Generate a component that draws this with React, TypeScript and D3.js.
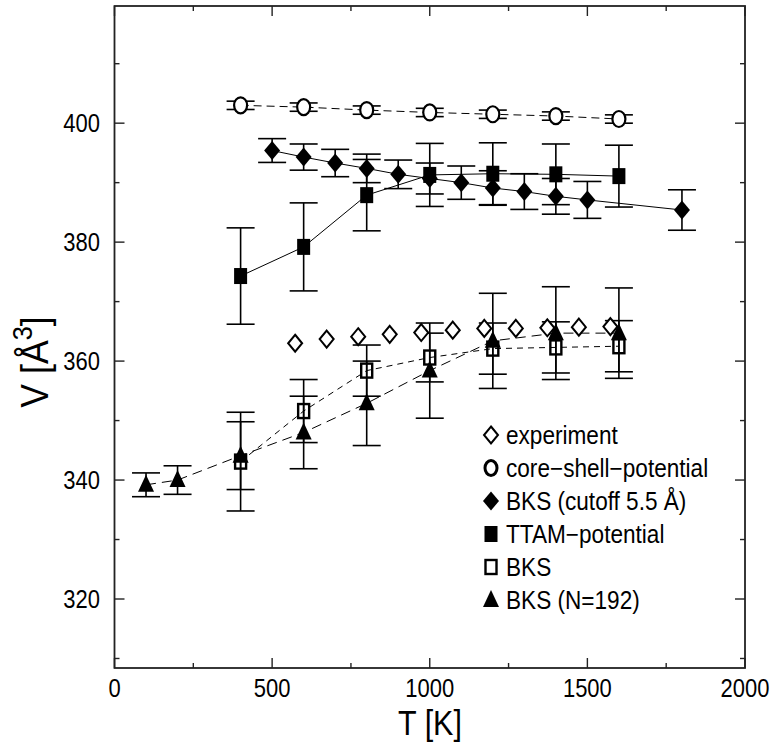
import React from "react";
import * as d3 from "d3";

const coreShellT = [400, 600, 800, 1000, 1200, 1400, 1600];
const coreShellV = [403.0, 402.7, 402.2, 401.8, 401.5, 401.2, 400.7];
const coreShellErr = [0.7, 0.7, 0.7, 0.7, 0.7, 0.7, 0.7];

const bksCutT = [500, 600, 700, 800, 900, 1000, 1100, 1200, 1300, 1400, 1500, 1800];
const bksCutV = [395.4, 394.3, 393.3, 392.4, 391.4, 390.7, 390.0, 389.1, 388.5, 387.7, 387.1, 385.4];
const bksCutErr = [2.0, 2.2, 2.3, 2.4, 2.4, 2.6, 2.8, 2.9, 3.0, 3.0, 3.1, 3.4];

const ttamT = [400, 600, 800, 1000, 1200, 1400, 1600];
const ttamV = [374.3, 379.2, 387.9, 391.3, 391.5, 391.4, 391.1];
const ttamErr = [8.1, 7.4, 6.0, 5.3, 5.2, 5.1, 5.2];

const expT = [573, 673, 773, 873, 973, 1073, 1173, 1273, 1373, 1473, 1573];
const expV = [363.0, 363.7, 364.1, 364.5, 364.8, 365.2, 365.5, 365.5, 365.6, 365.7, 365.8];

const bksT = [400, 600, 800, 1000, 1200, 1400, 1600];
const bksV = [343.1, 351.6, 358.4, 360.6, 362.1, 362.3, 362.5];
const bksErr = [8.3, 5.3, 4.3, 4.1, 4.3, 4.3, 4.3];

const bks192T = [100, 200, 400, 600, 800, 1000, 1200, 1400, 1600];
const bks192V = [339.2, 340.0, 344.1, 348.0, 352.9, 358.4, 363.4, 364.7, 364.7];
const bks192Err = [2.0, 2.4, 5.7, 6.1, 7.1, 8.0, 8.0, 7.8, 7.6];

const xMajor = [0, 500, 1000, 1500, 2000];
const xMinor = [250, 750, 1250, 1750];
const yMajor = [320, 340, 360, 380, 400];
const yMinor = [310, 330, 350, 370, 390, 410];

const legendLabels = [
  "experiment",
  "core\u2212shell\u2212potential",
  "BKS (cutoff 5.5 \u00c5)",
  "TTAM\u2212potential",
  "BKS",
  "BKS (N=192)",
];

const FONT = "'Liberation Sans', Arial, Helvetica, sans-serif";

const x = d3.scaleLinear().domain([0, 2000]).range([114.5, 745]);
const y = d3.scaleLinear().domain([308.4, 419.7]).range([668, 6]);

type MarkerKind = "openDiamond" | "circle" | "diamond" | "square" | "openSquare" | "triangle";

function Marker({ kind, cx, cy, legend }: { kind: MarkerKind; cx: number; cy: number; legend?: boolean }) {
  switch (kind) {
    case "openDiamond":
      return (
        <path
          d={`M${cx},${cy - 8.5}L${cx + 7},${cy}L${cx},${cy + 8.5}L${cx - 7},${cy}Z`}
          fill="white"
          stroke="black"
          strokeWidth={2}
        />
      );
    case "diamond":
      return (
        <path
          d={`M${cx},${cy - 9.5}L${cx + 8},${cy}L${cx},${cy + 9.5}L${cx - 8},${cy}Z`}
          fill="black"
        />
      );
    case "circle":
      return (
        <ellipse
          cx={cx}
          cy={cy}
          rx={legend ? 6 : 6.5}
          ry={legend ? 7.5 : 8}
          fill="white"
          stroke="black"
          strokeWidth={legend ? 3 : 2.2}
        />
      );
    case "square":
      return <rect x={cx - 6.5} y={cy - 8} width={13} height={16} fill="black" />;
    case "openSquare":
      return (
        <rect x={cx - 5.5} y={cy - 7} width={11} height={14} fill="none" stroke="black" strokeWidth={2.4} />
      );
    case "triangle":
      return <path d={`M${cx},${cy - 10}L${cx + 8},${cy + 7}L${cx - 8},${cy + 7}Z`} fill="black" />;
  }
}

function ErrorBars({ T, V, E }: { T: number[]; V: number[]; E: number[] }) {
  const cw = 14;
  return (
    <g stroke="black" strokeWidth={1.6}>
      {T.map((t, i) => {
        const px = x(t);
        const y1 = y(V[i] + E[i]);
        const y2 = y(V[i] - E[i]);
        return (
          <g key={i}>
            <line x1={px} x2={px} y1={y1} y2={y2} />
            <line x1={px - cw} x2={px + cw} y1={y1} y2={y1} />
            <line x1={px - cw} x2={px + cw} y1={y2} y2={y2} />
          </g>
        );
      })}
    </g>
  );
}

function Series({ T, V, kind }: { T: number[]; V: number[]; kind: MarkerKind }) {
  return (
    <g>
      {T.map((t, i) => (
        <Marker key={i} kind={kind} cx={x(t)} cy={y(V[i])} />
      ))}
    </g>
  );
}

function STxt({
  tx,
  ty,
  sy,
  size,
  anchor,
  children,
}: {
  tx: number;
  ty: number;
  sy: number;
  size: number;
  anchor?: string;
  children: React.ReactNode;
}) {
  return (
    <text transform={`translate(${tx},${ty}) scale(1,${sy})`} fontSize={size} textAnchor={anchor || "start"}>
      {children}
    </text>
  );
}

export default function App() {
  const line = (T: number[], V: number[]) =>
    d3.line<number>().x((t) => x(t)).y((_, i) => y(V[i]))(T) || "";

  const [x0, x1] = x.range();
  const [yb, yt] = y.range();

  const legendKinds: MarkerKind[] = ["openDiamond", "circle", "diamond", "square", "openSquare", "triangle"];

  return (
    <svg
      width={772}
      height={742}
      style={{ position: "absolute", left: 0, top: 0, background: "white" }}
      fontFamily={FONT}
    >
      <rect x={0} y={0} width={772} height={742} fill="white" />

      {/* connecting lines */}
      <path d={line(coreShellT, coreShellV)} fill="none" stroke="black" strokeWidth={1} strokeDasharray="8,5" />
      <path d={line(bksCutT, bksCutV)} fill="none" stroke="black" strokeWidth={1} />
      <path d={line(ttamT, ttamV)} fill="none" stroke="black" strokeWidth={1} />
      <path d={line(bksT, bksV)} fill="none" stroke="black" strokeWidth={1} strokeDasharray="6,5" />
      <path d={line(bks192T, bks192V)} fill="none" stroke="black" strokeWidth={1} strokeDasharray="10,6" />

      {/* error bars */}
      <ErrorBars T={coreShellT} V={coreShellV} E={coreShellErr} />
      <ErrorBars T={bksCutT} V={bksCutV} E={bksCutErr} />
      <ErrorBars T={ttamT} V={ttamV} E={ttamErr} />
      <ErrorBars T={bksT} V={bksV} E={bksErr} />
      <ErrorBars T={bks192T} V={bks192V} E={bks192Err} />

      {/* markers */}
      <Series T={expT} V={expV} kind="openDiamond" />
      <Series T={coreShellT} V={coreShellV} kind="circle" />
      <Series T={bksCutT} V={bksCutV} kind="diamond" />
      <Series T={ttamT} V={ttamV} kind="square" />
      <Series T={bks192T} V={bks192V} kind="triangle" />
      <Series T={bksT} V={bksV} kind="openSquare" />

      {/* frame */}
      <rect x={x0} y={yt} width={x1 - x0} height={yb - yt} fill="none" stroke="#222" strokeWidth={1.8} />

      {/* ticks */}
      <g stroke="#222" strokeWidth={1.4}>
        {xMajor.map((t) => (
          <g key={"xM" + t}>
            <line x1={x(t)} x2={x(t)} y1={yb} y2={yb - 10} />
            <line x1={x(t)} x2={x(t)} y1={yt} y2={yt + 10} />
          </g>
        ))}
        {xMinor.map((t) => (
          <g key={"xm" + t}>
            <line x1={x(t)} x2={x(t)} y1={yb} y2={yb - 5} />
            <line x1={x(t)} x2={x(t)} y1={yt} y2={yt + 5} />
          </g>
        ))}
        {yMajor.map((v) => (
          <g key={"yM" + v}>
            <line x1={x0} x2={x0 + 10} y1={y(v)} y2={y(v)} />
            <line x1={x1} x2={x1 - 10} y1={y(v)} y2={y(v)} />
          </g>
        ))}
        {yMinor.map((v) => (
          <g key={"ym" + v}>
            <line x1={x0} x2={x0 + 5} y1={y(v)} y2={y(v)} />
            <line x1={x1} x2={x1 - 5} y1={y(v)} y2={y(v)} />
          </g>
        ))}
      </g>

      {/* tick labels */}
      <g fill="black">
        {xMajor.map((t) => (
          <STxt key={"xl" + t} tx={x(t)} ty={697} sy={1.2} size={22} anchor="middle">
            {t}
          </STxt>
        ))}
        {yMajor.map((v) => (
          <STxt key={"yl" + v} tx={100} ty={y(v) + 9} sy={1.2} size={22} anchor="end">
            {v}
          </STxt>
        ))}
      </g>

      {/* axis titles */}
      <STxt tx={430} ty={735} sy={1.15} size={30.5} anchor="middle">
        T [K]
      </STxt>
      <text transform="translate(48,362) rotate(-90) scale(1.05,1.15)" textAnchor="middle" fontSize={34}>
        V [Å<tspan fontSize={24} dy={-14}>3</tspan>
        <tspan dy={14}>]</tspan>
      </text>

      {/* legend */}
      <g>
        {legendLabels.map((lab, i) => {
          const cy = 435 + i * 33;
          return (
            <g key={lab}>
              <Marker kind={legendKinds[i]} cx={491} cy={cy} legend />
              <STxt tx={506} ty={cy + 8.5} sy={1.12} size={22.6}>
                {lab}
              </STxt>
            </g>
          );
        })}
      </g>
    </svg>
  );
}
